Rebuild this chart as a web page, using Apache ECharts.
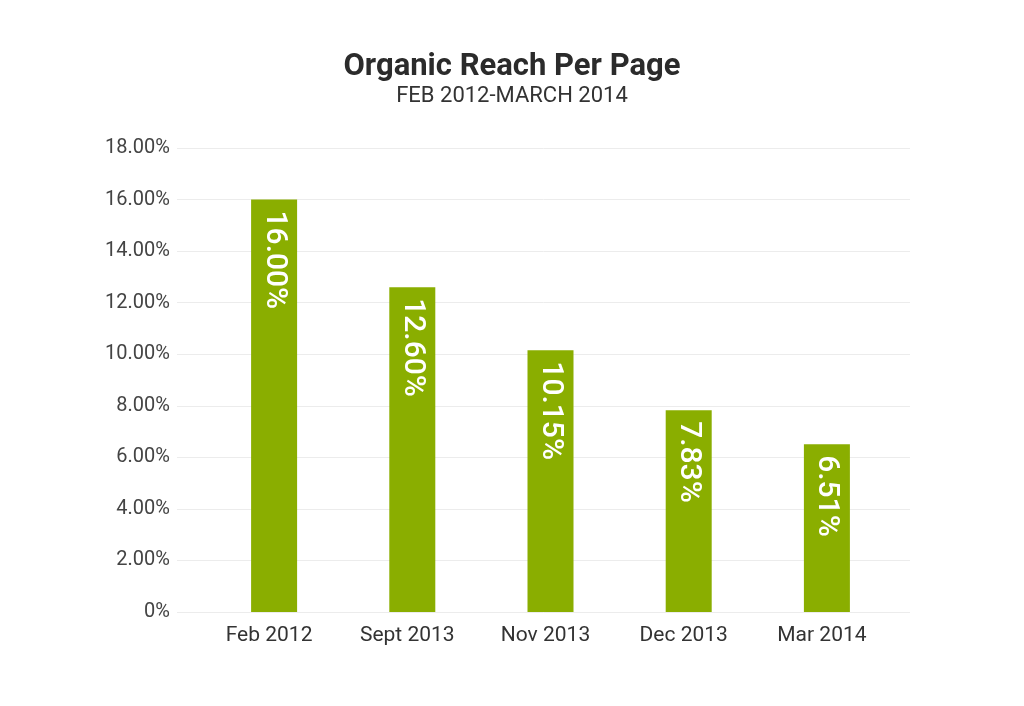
<!DOCTYPE html>
<html>
<head>
<meta charset="utf-8">
<title>Organic Reach Per Page</title>
<script src="https://cdn.jsdelivr.net/npm/echarts@6/dist/echarts.min.js"></script>
<style>
  html, body { margin: 0; padding: 0; background: #fff; }
  #chart { width: 1024px; height: 706px; }
</style>
</head>
<body>
<div id="chart"></div>
<script>
// data
var titleText = "Organic Reach Per Page";
var subTitleText = "FEB 2012-MARCH 2014";
var months = ["Feb 2012", "Sept 2013", "Nov 2013", "Dec 2013", "Mar 2014"];
var reach = [16.00, 12.60, 10.15, 7.83, 6.51];
var yMin = 0, yMax = 18, yStep = 2;

var fontName = "Roboto";
var barColor = "#8aae00";

var chart = echarts.init(document.getElementById("chart"));

function pct(v) {
  return v === 0 ? "0%" : v.toFixed(2) + "%";
}

var option = {
  backgroundColor: "#fff",
  animation: false,
  title: {
    text: titleText,
    subtext: subTitleText,
    left: "center",
    top: 47,
    itemGap: 2,
    textStyle: {
      fontFamily: fontName,
      fontWeight: "bold",
      fontSize: 31,
      color: "#2b2b2b"
    },
    subtextStyle: {
      fontFamily: fontName,
      fontSize: 22,
      color: "#333"
    }
  },
  // grid 0 only carries the y labels + the wide gridlines
  // grid 1 is where the bars sit (a bit narrower, like the original)
  grid: [
    { left: 177, right: 114, top: 148, bottom: 94 },
    { left: 205, right: 128, top: 148, bottom: 94 }
  ],
  xAxis: [
    {
      gridIndex: 0,
      type: "value",
      show: false
    },
    {
      gridIndex: 1,
      type: "category",
      data: months,
      axisLine: { show: false },
      axisTick: { show: false },
      axisLabel: {
        margin: 13,
        padding: [0, 10, 0, 0],
        fontFamily: fontName,
        fontSize: 21,
        color: "#333"
      }
    }
  ],
  yAxis: [
    {
      gridIndex: 0,
      type: "value",
      min: yMin,
      max: yMax,
      interval: yStep,
      axisLine: { show: false },
      axisTick: { show: false },
      splitLine: {
        lineStyle: { color: "#ececec", width: 1 }
      },
      axisLabel: {
        margin: 7,
        fontFamily: fontName,
        fontSize: 20,
        color: "#444",
        formatter: pct
      }
    },
    {
      gridIndex: 1,
      type: "value",
      min: yMin,
      max: yMax,
      interval: yStep,
      show: false,
      splitLine: { show: false }
    }
  ],
  series: [
    {
      type: "bar",
      xAxisIndex: 1,
      yAxisIndex: 1,
      data: reach,
      barWidth: 46,
      itemStyle: { color: barColor },
      label: {
        show: true,
        position: "insideTop",
        distance: 11,
        rotate: -90,
        align: "left",
        verticalAlign: "middle",
        fontFamily: fontName,
        fontWeight: 500,
        fontSize: 30,
        color: "#fff",
        formatter: function (p) { return pct(p.value); }
      }
    }
  ]
};

chart.setOption(option);
window.addEventListener("resize", function () {
  chart.resize();
});
</script>
</body>
</html>
